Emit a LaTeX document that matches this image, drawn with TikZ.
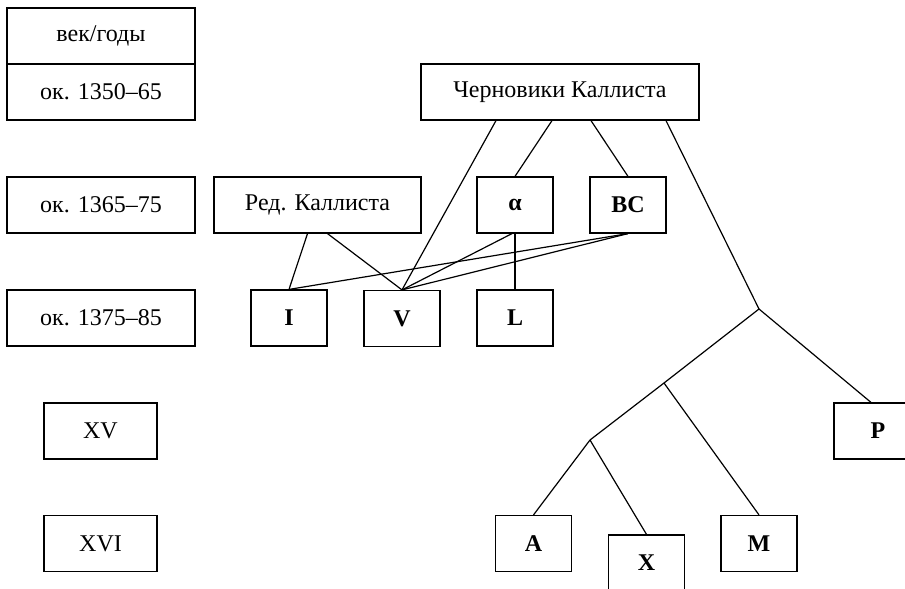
\documentclass[tikz,border=0pt]{standalone}
\usepackage{fontspec}
\setmainfont{Liberation Serif}
\usepackage{tikz}
\usetikzlibrary{positioning,calc}
\tikzset{
    box/.style={
        draw,
        rectangle,
        line width=0.6pt,
        minimum height=28pt,
        inner sep=1pt,
        font=\fontsize{12}{14}\selectfont
    },
    period/.style={box, minimum width=94pt},
    ms/.style={box, minimum width=38pt, font=\fontsize{12}{14}\selectfont\bfseries},
    link/.style={draw, line width=0.6pt}
}

\begin{document}
\begin{tikzpicture}[x=0.5pt, y=-0.5pt]
    \clip (0,0) rectangle (905,589);
    % Periods
    \node[period] (head) at (101,36) {век/годы};
    \node[period] (p1) at (101,92) {ок. 1350–65};
    \node[period] (p2) at (101,205) {ок. 1365–75};
    \node[period] (p3) at (101,318) {ок. 1375–85};
    \node[box, minimum width=56.5pt] (p4) at (100.5,431) {XV};
    \node[box, minimum width=56.5pt] (p5) at (100.5,543.5) {XVI};

    % Manuscripts
    \node[box, minimum width=139pt] (chern) at (560,92) {Черновики Каллиста};
    \node[box, minimum width=103.5pt] (red) at (317.5,205) {Ред. Каллиста};
    \node[ms] (alpha) at (515,205) {α};
    \node[ms] (bc) at (628,205) {BC};
    \node[ms] (I) at (289,318) {I};
    \node[ms] (V) at (402,318.5) {V};
    \node[ms] (L) at (515,318) {L};
    \node[ms, minimum width=44pt] (P) at (878,431) {P};
    \node[ms] (A) at (533.5,543.5) {A};
    \node[ms] (X) at (646.5,563) {X};
    \node[ms] (M) at (759,543.5) {M};
    \coordinate (j1) at (759,309);
    \coordinate (j2) at (664,383);
    \coordinate (j3) at (590,440);

    % Edges
    \draw[link] ($(red.south)+(-10,0)$) -- (I.north);
    \draw[link] ($(red.south)+(10,0)$) -- (V.north);
    \draw[link] ($(chern.south)+(-64,0)$) -- (V.north);
    \draw[link] ($(chern.south)+(-8,0)$) -- (alpha.north);
    \draw[link] ($(chern.south)+(31,0)$) -- (bc.north);
    \draw[link] ($(chern.south)+(106,0)$) -- (j1);
    \draw[link] (alpha.south) -- (L.north);
    \draw[link] ($(alpha.south)+(-3,0)$) -- (V.north);
    \draw[link] (bc.south) -- (V.north);
    \draw[link] (bc.south) -- (I.north);
    \draw[link] (j1) -- ($(P.north)+(-7,0)$);
    \draw[link] (j1) -- (j2) -- (j3);
    \draw[link] (j2) -- (M.north);
    \draw[link] (j3) -- (A.north);
    \draw[link] (j3) -- (X.north);
\end{tikzpicture}
\end{document}
